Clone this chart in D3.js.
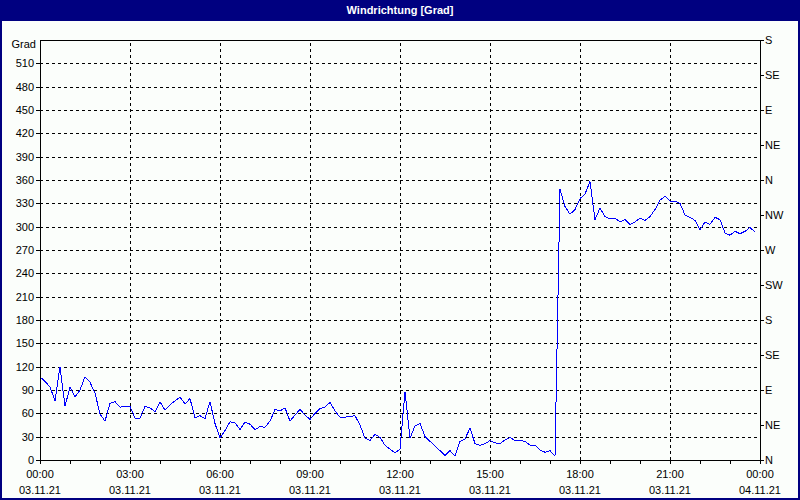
<!DOCTYPE html>
<html><head><meta charset="utf-8">
<script src="https://cdn.jsdelivr.net/npm/d3@7"></script>
<style>
body{margin:0;background:#fbfefb}
svg{display:block}
text{font-family:"Liberation Sans Narrow","Liberation Sans",Arial,sans-serif;font-size:11px;fill:#000}
</style>
</head><body>
<svg id="c" width="800" height="500"></svg>
<script>
const title = "Windrichtung [Grad]";
const yUnit = "Grad";
const dayStart = new Date(2021, 10, 3, 0, 0);
const dayEnd = new Date(2021, 10, 4, 0, 0);
const stepMinutes = 10;
// wind direction in degrees, one value every 10 minutes from 00:00
const values = [
  107,101,94,76,120,69,94,81,90,107,100,86,59,50,73,75,68,69,69,54,
  54,69,67,62,75,64,71,76,81,72,79,54,57,53,75,47,28,38,49,48,
  39,49,46,39,43,42,50,65,63,67,50,58,65,58,52,60,66,68,74,63,
  55,55,56,57,45,28,25,33,29,19,14,9,14,88,28,44,47,30,24,18,
  12,6,12,5,24,27,41,21,19,21,25,22,21,26,29,25,25,24,19,19,
  13,10,12,5,348,326,316,322,336,342,358,309,324,313,310,311,306,309,303,306,
  311,308,313,322,334,339,333,333,330,315,312,308,296,306,303,312,309,292,289,294,
  291,294,299,293
];
const yTickValues = [0,30,60,90,120,150,180,210,240,270,300,330,360,390,420,450,480,510];
const dirTickValues = [0,45,90,135,180,225,270,315,360,405,450,495,540];
const dirLabels = ["N","NE","E","SE","S","SW","W","NW","N","NE","E","SE","S"];
const majorHours = [0,3,6,9,12,15,18,21,24];

const W = 800, H = 500;
const m = {left:40, right:40, top:40, bottom:40};
const svg = d3.select("#c");

const times = values.map((v, i) => d3.timeMinute.offset(dayStart, i * stepMinutes));
const data = values.map((v, i) => ({t: times[i], v}));

const x = d3.scaleTime().domain([dayStart, dayEnd]).range([m.left, W - m.right]);
const y = d3.scaleLinear().domain([0, 540]).range([H - m.bottom, m.top]);

// background
svg.append("rect").attr("x",0).attr("y",0).attr("width",W).attr("height",H).attr("fill","#fbfefb");

// title bar
svg.append("rect").attr("x",0).attr("y",0).attr("width",W).attr("height",21).attr("fill","#000080");
svg.append("text").attr("x",W/2).attr("y",14).attr("text-anchor","middle")
  .style("font-family","'Liberation Sans',Arial,sans-serif").style("font-weight","bold").style("font-size","11px")
  .style("fill","#fff").text(title);

// frame
svg.append("rect").attr("x",1).attr("y",1).attr("width",W-2).attr("height",H-2)
  .attr("fill","none").attr("stroke","#000080").attr("stroke-width",2);

// grid
const hourly = d3.timeHour.range(dayStart, d3.timeHour.offset(dayEnd, 1));
const majorTimes = majorHours.map(h => d3.timeHour.offset(dayStart, h));
const innerTimes = majorTimes.slice(1, -1);

const gy = svg.append("g").attr("transform",`translate(${m.left},0)`)
  .call(d3.axisLeft(y).tickValues(yTickValues.slice(1)).tickSize(-(W - m.left - m.right)).tickFormat(""));
gy.select(".domain").remove();
gy.selectAll("line").attr("stroke","#000").attr("stroke-dasharray","3,3").attr("shape-rendering","crispEdges");

const gx = svg.append("g").attr("transform",`translate(0,${H - m.bottom})`)
  .call(d3.axisBottom(x).tickValues(innerTimes).tickSize(-(H - m.top - m.bottom)).tickFormat(""));
gx.select(".domain").remove();
gx.selectAll("line").attr("stroke","#000").attr("stroke-dasharray","3,3").attr("shape-rendering","crispEdges");

// top border
svg.append("line").attr("x1",m.left).attr("x2",W-m.right).attr("y1",m.top+0.5).attr("y2",m.top+0.5)
  .attr("stroke","#000").attr("shape-rendering","crispEdges");

// line
const line = d3.line().x(d => x(d.t)).y(d => y(d.v));
svg.append("path").datum(data).attr("d", line).attr("fill","none")
  .attr("stroke","#0000ff").attr("stroke-width",1).attr("shape-rendering","crispEdges");

// left axis
const ax = svg.append("g").attr("transform",`translate(${m.left},0)`)
  .call(d3.axisLeft(y).tickValues(yTickValues).tickSize(4).tickPadding(2));
ax.selectAll("path,line").attr("stroke","#000").attr("shape-rendering","crispEdges");
ax.selectAll("text").style("font-size","11px").attr("fill","#000");
ax.select(".domain").attr("d", `M0.5,${H-m.bottom}V${m.top}`);
svg.append("text").attr("x", m.left - 4).attr("y", m.top + 8).attr("text-anchor","end").text(yUnit);

// right axis
const ar = svg.append("g").attr("transform",`translate(${W - m.right},0)`)
  .call(d3.axisRight(y).tickValues(dirTickValues).tickSize(4).tickPadding(1).tickFormat((d,i) => dirLabels[i]));
ar.selectAll("path,line").attr("stroke","#000").attr("shape-rendering","crispEdges");
ar.selectAll("text").style("font-size","11px").attr("fill","#000");
ar.select(".domain").attr("d", `M0.5,${H-m.bottom}V${m.top}`);

// bottom axis
const ab = svg.append("g").attr("transform",`translate(0,${H - m.bottom})`)
  .call(d3.axisBottom(x).tickValues(hourly).tickSize(4).tickFormat(""));
ab.selectAll("path,line").attr("stroke","#000").attr("shape-rendering","crispEdges");
ab.select(".domain").attr("d", `M${m.left},0.5H${W-m.right}`);

const fT = d3.timeFormat("%H:%M"), fD = d3.timeFormat("%d.%m.%y");
const lab = svg.append("g");
lab.selectAll("text.t").data(majorTimes).join("text").attr("class","t")
  .attr("x", d => x(d)).attr("y", 478).attr("text-anchor","middle").text(d => fT(d));
lab.selectAll("text.d").data(majorTimes).join("text").attr("class","d")
  .attr("x", d => x(d)).attr("y", 494).attr("text-anchor","middle").text(d => fD(d));
</script>
</body></html>
